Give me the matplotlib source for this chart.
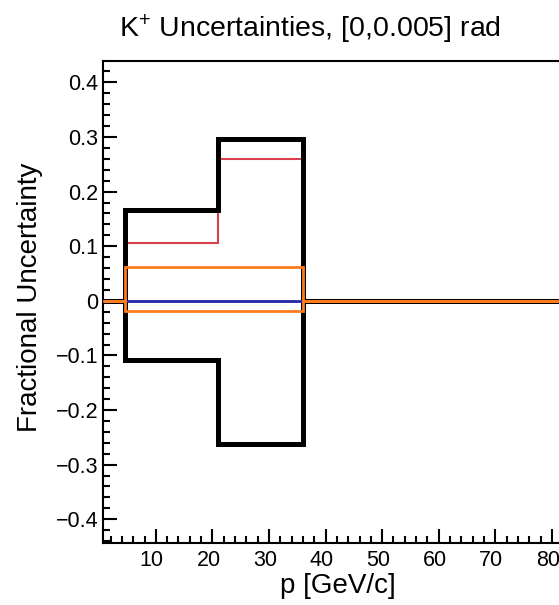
import numpy as np
import matplotlib
matplotlib.use("Agg")
import matplotlib.pyplot as plt
from matplotlib.ticker import MultipleLocator, FixedLocator
from matplotlib.transforms import ScaledTranslation

plt.rcParams['font.family'] = ['Liberation Sans', 'DejaVu Sans']
plt.rcParams['mathtext.fontset'] = 'custom'
plt.rcParams['mathtext.rm'] = 'Liberation Sans'
plt.rcParams['mathtext.it'] = 'Liberation Sans:italic'

# momentum bins [GeV/c]
bin_edges = [4.5, 21, 36]
# fractional uncertainties per bin
total_up = [0.166, 0.297]
total_dn = [-0.108, -0.263]
red_up = [0.105, 0.26]
blue_vals = [0.0, 0.0]
orange_up = [0.062, 0.062]
orange_dn = [-0.018, -0.018]

x_range = (0.6, 100)
y_range = (-0.444, 0.439)
yticks = [-0.4, -0.3, -0.2, -0.1, 0, 0.1, 0.2, 0.3, 0.4]
ytick_labels = ["\u22120.4", "\u22120.3", "\u22120.2", "\u22120.1", "0", "0.1", "0.2", "0.3", "0.4"]
xticks = [10, 20, 30, 40, 50, 60, 70, 80]


def padded(vals):
    # histogram is zero outside the filled bins, like a ROOT TH1
    edges = [x_range[0]] + bin_edges + [x_range[1]]
    return np.array([0.0] + list(vals) + [0.0]), np.array(edges)


fig = plt.figure(figsize=(5.59, 6.05), dpi=100)
# frame runs past the right edge of the canvas, as in the original crop
ax = fig.add_axes([0.1837, 0.102, 1.006, 0.797])

v, e = padded(red_up)
ax.stairs(v, e, baseline=None, color='#d8414c', lw=1.5, zorder=2)
v, e = padded(total_up)
ax.stairs(v, e, baseline=None, color='black', lw=3.6, zorder=3)
v, e = padded(total_dn)
ax.stairs(v, e, baseline=None, color='black', lw=3.6, zorder=3)
v, e = padded(blue_vals)
ax.stairs(v, e, baseline=None, color='#2424a8', lw=2.0, zorder=4)
v, e = padded(orange_up)
ax.stairs(v, e, baseline=None, color='#ff7b1c', lw=2.0, zorder=5)
v, e = padded(orange_dn)
ax.stairs(v, e, baseline=None, color='#ff7b1c', lw=2.0, zorder=5)

ax.set_xlim(*x_range)
ax.set_ylim(*y_range)

ax.xaxis.set_major_locator(FixedLocator(xticks))
ax.xaxis.set_minor_locator(MultipleLocator(2))
ax.set_yticks(yticks)
ax.set_yticklabels(ytick_labels)
ax.yaxis.set_minor_locator(MultipleLocator(0.02))

ax.tick_params(axis='both', which='both', direction='in', top=False, right=False,
               width=1.5, labelsize=15.5)
ax.tick_params(axis='both', which='major', length=10)
ax.tick_params(axis='both', which='minor', length=5)
ax.tick_params(axis='x', which='major', pad=5)
ax.tick_params(axis='y', which='major', pad=3)
for s in ax.spines.values():
    s.set_linewidth(1.5)

# ROOT puts the x labels a touch left of their ticks
shift = ScaledTranslation(-4 / 100, 0, fig.dpi_scale_trans)
for lbl in ax.get_xticklabels():
    lbl.set_transform(lbl.get_transform() + shift)

fig.text(0.555, 1 - 37 / 605, r'K$^{+}$ Uncertainties, [0,0.005] rad',
         ha='center', va='baseline', fontsize=20.5)
fig.text(338 / 559, 1 - 593 / 605, 'p [GeV/c]', ha='center', va='baseline', fontsize=20)
fig.text(30 / 559, 1 - 297 / 605, 'Fractional Uncertainty', ha='center', va='center',
         rotation=90, fontsize=20)

fig.savefig('out.png', dpi=100)
